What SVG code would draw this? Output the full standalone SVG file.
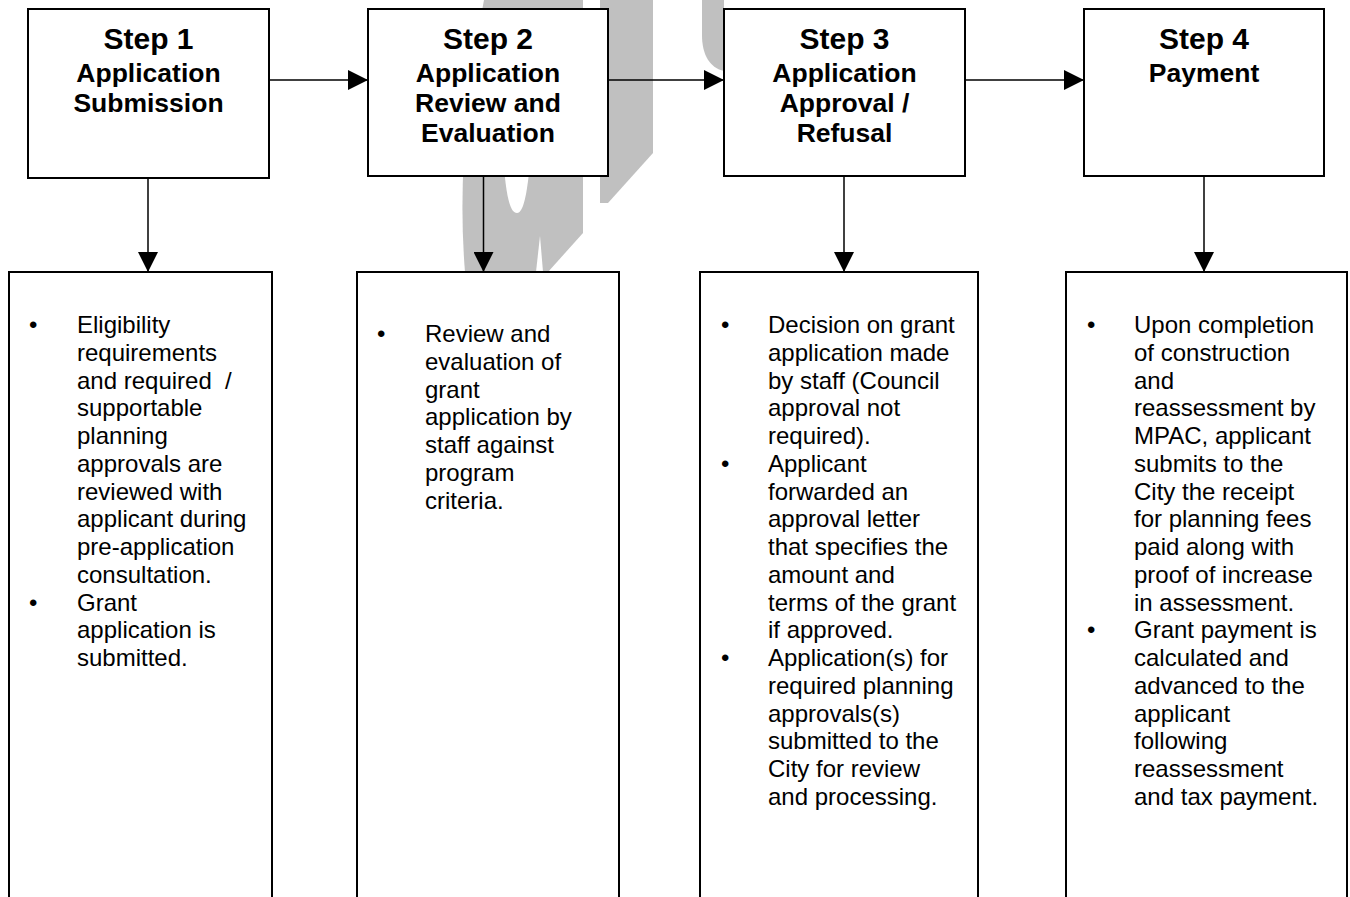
<svg xmlns="http://www.w3.org/2000/svg" width="1350" height="897" viewBox="0 0 1350 897">
<defs>
<style>
.box{fill:#fff;stroke:#000;stroke-width:2}
.wm{fill:#c0c0c0;stroke:none}
.conn{stroke:#000;stroke-width:1.5;fill:none}
.step{font-family:"Liberation Sans",Arial,sans-serif;font-weight:bold;font-size:30px;text-anchor:middle;fill:#000}
.sub{font-family:"Liberation Sans",Arial,sans-serif;font-weight:bold;font-size:26.5px;text-anchor:middle;fill:#000}
.body{font-family:"Liberation Sans",Arial,sans-serif;font-size:24px;fill:#000}
</style>
<marker id="ah" markerWidth="20" markerHeight="20" refX="20" refY="10" orient="auto" markerUnits="userSpaceOnUse" viewBox="0 0 20 20">
<path d="M0,0 L20,10 L0,20 Z" fill="#000"/>
</marker>
</defs>
<rect width="1350" height="897" fill="#fff"/>
<g id="watermark">
<path class="wm" d="M484,0 L583,0 L583,233 L548,272 L465,272 Q455,150 484,0 Z"/>
<path d="M503,150 C505,190 509,213 517,213 C524,213 528,190 531,150 Z" fill="#fff"/>
<path d="M540,236 L536,272 L543,272 Z" fill="#fff"/>
<path class="wm" d="M600,0 L653,0 L653,153 L608,203 L600,203 Z"/>
<path class="wm" d="M702,0 L724,0 L724,71 C710,68 702,55 702,35 Z"/>
</g>
<g id="connectors">
<line class="conn" x1="269" y1="80" x2="368" y2="80" marker-end="url(#ah)"/>
<line class="conn" x1="608" y1="80" x2="724" y2="80" marker-end="url(#ah)"/>
<line class="conn" x1="965" y1="80" x2="1084" y2="80" marker-end="url(#ah)"/>
<line class="conn" x1="148" y1="178" x2="148" y2="272" marker-end="url(#ah)"/>
<line class="conn" x1="483.5" y1="176" x2="483.5" y2="272" marker-end="url(#ah)"/>
<line class="conn" x1="844" y1="176" x2="844" y2="272" marker-end="url(#ah)"/>
<line class="conn" x1="1204" y1="176" x2="1204" y2="272" marker-end="url(#ah)"/>
</g>
<g id="step1">
<rect class="box" x="28" y="9" width="241" height="169"/>
<text class="step" x="148.5" y="49">Step 1</text>
<text class="sub" x="148.5" y="82">Application</text>
<text class="sub" x="148.5" y="112">Submission</text>
</g>
<g id="step2">
<rect class="box" x="368" y="9" width="240" height="167"/>
<text class="step" x="488" y="49">Step 2</text>
<text class="sub" x="488" y="82">Application</text>
<text class="sub" x="488" y="112">Review and</text>
<text class="sub" x="488" y="142">Evaluation</text>
</g>
<g id="step3">
<rect class="box" x="724" y="9" width="241" height="167"/>
<text class="step" x="844.5" y="49">Step 3</text>
<text class="sub" x="844.5" y="82">Application</text>
<text class="sub" x="844.5" y="112">Approval /</text>
<text class="sub" x="844.5" y="142">Refusal</text>
</g>
<g id="step4">
<rect class="box" x="1084" y="9" width="240" height="167"/>
<text class="step" x="1204" y="49">Step 4</text>
<text class="sub" x="1204" y="82">Payment</text>
</g>
<g id="detail1">
<rect class="box" x="9" y="272" width="263" height="640"/>
<text class="body" x="29" y="333">•</text>
<text class="body" x="29" y="610.6">•</text>
<text class="body" x="77" y="333">
<tspan x="77" dy="0">Eligibility</tspan>
<tspan x="77" dy="27.76">requirements</tspan>
<tspan x="77" dy="27.76" xml:space="preserve">and required  /</tspan>
<tspan x="77" dy="27.76">supportable</tspan>
<tspan x="77" dy="27.76">planning</tspan>
<tspan x="77" dy="27.76">approvals are</tspan>
<tspan x="77" dy="27.76">reviewed with</tspan>
<tspan x="77" dy="27.76">applicant during</tspan>
<tspan x="77" dy="27.76">pre-application</tspan>
<tspan x="77" dy="27.76">consultation.</tspan>
<tspan x="77" dy="27.76">Grant</tspan>
<tspan x="77" dy="27.76">application is</tspan>
<tspan x="77" dy="27.76">submitted.</tspan>
</text>
</g>
<g id="detail2">
<rect class="box" x="357" y="272" width="262" height="640"/>
<text class="body" x="377" y="342">•</text>
<text class="body" x="425" y="342">
<tspan x="425" dy="0">Review and</tspan>
<tspan x="425" dy="27.76">evaluation of</tspan>
<tspan x="425" dy="27.76">grant</tspan>
<tspan x="425" dy="27.76">application by</tspan>
<tspan x="425" dy="27.76">staff against</tspan>
<tspan x="425" dy="27.76">program</tspan>
<tspan x="425" dy="27.76">criteria.</tspan>
</text>
</g>
<g id="detail3">
<rect class="box" x="700" y="272" width="278" height="640"/>
<text class="body" x="721" y="333">•</text>
<text class="body" x="721" y="471.8">•</text>
<text class="body" x="721" y="666.1">•</text>
<text class="body" x="768" y="333">
<tspan x="768" dy="0">Decision on grant</tspan>
<tspan x="768" dy="27.76">application made</tspan>
<tspan x="768" dy="27.76">by staff (Council</tspan>
<tspan x="768" dy="27.76">approval not</tspan>
<tspan x="768" dy="27.76">required).</tspan>
<tspan x="768" dy="27.76">Applicant</tspan>
<tspan x="768" dy="27.76">forwarded an</tspan>
<tspan x="768" dy="27.76">approval letter</tspan>
<tspan x="768" dy="27.76">that specifies the</tspan>
<tspan x="768" dy="27.76">amount and</tspan>
<tspan x="768" dy="27.76">terms of the grant</tspan>
<tspan x="768" dy="27.76">if approved.</tspan>
<tspan x="768" dy="27.76">Application(s) for</tspan>
<tspan x="768" dy="27.76">required planning</tspan>
<tspan x="768" dy="27.76">approvals(s)</tspan>
<tspan x="768" dy="27.76">submitted to the</tspan>
<tspan x="768" dy="27.76">City for review</tspan>
<tspan x="768" dy="27.76">and processing.</tspan>
</text>
</g>
<g id="detail4">
<rect class="box" x="1066" y="272" width="281" height="640"/>
<text class="body" x="1087" y="333">•</text>
<text class="body" x="1087" y="638.4">•</text>
<text class="body" x="1134" y="333">
<tspan x="1134" dy="0">Upon completion</tspan>
<tspan x="1134" dy="27.76">of construction</tspan>
<tspan x="1134" dy="27.76">and</tspan>
<tspan x="1134" dy="27.76">reassessment by</tspan>
<tspan x="1134" dy="27.76">MPAC, applicant</tspan>
<tspan x="1134" dy="27.76">submits to the</tspan>
<tspan x="1134" dy="27.76">City the receipt</tspan>
<tspan x="1134" dy="27.76">for planning fees</tspan>
<tspan x="1134" dy="27.76">paid along with</tspan>
<tspan x="1134" dy="27.76">proof of increase</tspan>
<tspan x="1134" dy="27.76">in assessment.</tspan>
<tspan x="1134" dy="27.76">Grant payment is</tspan>
<tspan x="1134" dy="27.76">calculated and</tspan>
<tspan x="1134" dy="27.76">advanced to the</tspan>
<tspan x="1134" dy="27.76">applicant</tspan>
<tspan x="1134" dy="27.76">following</tspan>
<tspan x="1134" dy="27.76">reassessment</tspan>
<tspan x="1134" dy="27.76">and tax payment.</tspan>
</text>
</g>
</svg>
